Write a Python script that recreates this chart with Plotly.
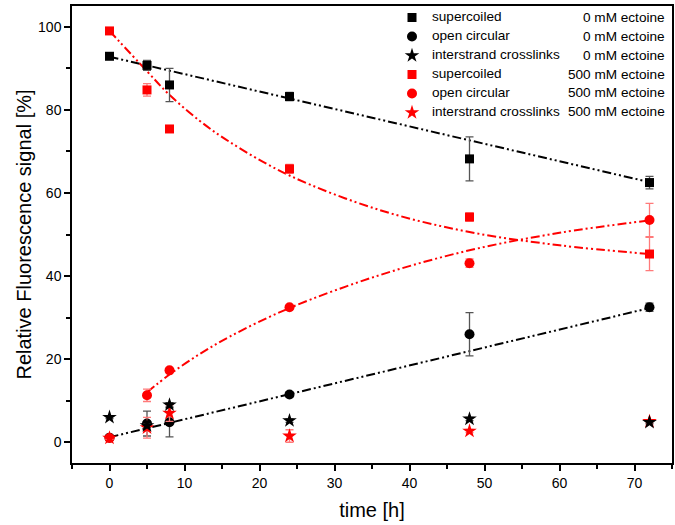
import plotly.graph_objects as go

# ---------------- data ----------------
time_h = [0, 5, 8, 24, 48, 72]

sc_0 = [92.9, 90.7, 86.0, 83.2, 68.2, 62.5]
sc_0_err = [0.6, 1.2, 4.0, 1.0, 5.3, 1.5]
oc_0 = [1.1, 4.5, 4.8, 11.5, 26.0, 32.5]
oc_0_err = [0.5, 3.0, 3.5, 0.6, 5.2, 1.0]
xl_0 = [6.0, 4.0, 9.0, 5.2, 5.6, 4.8]
xl_0_err = [0.3, 0.5, 0.5, 0.4, 0.4, 0.4]

sc_500 = [99.0, 84.8, 75.4, 65.8, 54.2, 45.3]
sc_500_err = [0.5, 1.5, 0.7, 1.1, 1.0, 4.0]
oc_500 = [1.0, 11.3, 17.3, 32.5, 43.1, 53.5]
oc_500_err = [0.3, 1.5, 0.5, 0.4, 1.0, 4.0]
xl_500 = [1.0, 3.5, 7.0, 1.5, 2.7, 5.0]
xl_500_err = [0.3, 2.5, 2.0, 1.5, 0.4, 0.4]

# fitted curves as drawn in the reference
fit_lin_t = [0, 72]
fit_sc_0 = [92.8, 62.6]
fit_oc_0 = [1.2, 32.3]
fit_sc_500_t = [0, 5, 8, 12, 16, 24, 36, 48, 60, 72]
fit_sc_500 = [99.0, 89.3, 83.6, 77.4, 72.3, 64.2, 55.9, 50.6, 47.4, 45.3]
fit_oc_500_t = [5, 8, 12, 16, 24, 36, 48, 60, 72]
fit_oc_500 = [12.0, 16.3, 21.2, 25.4, 32.3, 40.2, 46.2, 50.4, 53.4]

series_names = ["supercoiled", "open circular", "interstrand crosslinks"]
conditions = ["0 mM ectoine", "500 mM ectoine"]

x_ticks = [0, 10, 20, 30, 40, 50, 60, 70]
y_ticks = [0, 20, 40, 60, 80, 100]

dashdotdot = "9px,3px,2px,3px,2px,3px"
legend_font_px = 13.6

fig = go.Figure()
fits = [
    (fit_lin_t, fit_sc_0, "black", "linear"),
    (fit_lin_t, fit_oc_0, "black", "linear"),
    (fit_sc_500_t, fit_sc_500, "red", "spline"),
    (fit_oc_500_t, fit_oc_500, "red", "spline"),
]
for xs, ys, col, shape in fits:
    fig.add_trace(go.Scatter(x=xs, y=ys, mode="lines", showlegend=False,
                             hoverinfo="skip",
                             line=dict(color=col, width=2, dash=dashdotdot,
                                       shape=shape, smoothing=1.0)))

err_black = "#555555"
err_red = "#ff7a7a"


def leg(name):
    return ('<span style="font-size:%spx">' % legend_font_px) + name + "</span>"


points = [
    # (values, errors, colour, errcolour, symbol, size, legend name, rank)
    (sc_0, sc_0_err, "black", err_black, "square", 9, series_names[0], 1),
    (oc_0, oc_0_err, "black", err_black, "circle", 10, series_names[1], 2),
    (sc_500, sc_500_err, "red", err_red, "square", 9, series_names[0], 4),
    (oc_500, oc_500_err, "red", err_red, "circle", 10, series_names[1], 5),
    (xl_500, xl_500_err, "red", err_red, "star", 11, series_names[2], 6),
    (xl_0, xl_0_err, "black", err_black, "star", 11, series_names[2], 3),
]

for vals, errs, col, ecol, sym, size, name, rank in points:
    fig.add_trace(go.Scatter(
        x=time_h, y=vals, mode="markers", name=leg(name), legendrank=rank,
        marker=dict(symbol=sym, size=size, color=col, line=dict(width=0)),
        error_y=dict(type="data", array=errs, visible=True, color=ecol,
                     thickness=1.3, width=4),
    ))

axis_common = dict(
    showgrid=False, zeroline=False, showline=True, linecolor="black",
    linewidth=1.5, mirror=True, ticks="outside", ticklen=6, tickwidth=1.5,
    tickcolor="black", tickfont=dict(size=14, color="black"),
    automargin=False,
)

fig.update_xaxes(range=[-5, 75], tickvals=x_ticks,
                 minor=dict(dtick=5, tick0=0, ticks="outside", ticklen=4,
                            tickwidth=1.5, tickcolor="black"),
                 title=dict(text="time [h]", font=dict(size=20, color="black"),
                            standoff=13),
                 **axis_common)
fig.update_yaxes(range=[-5, 105], tickvals=y_ticks,
                 minor=dict(dtick=10, tick0=0, ticks="outside", ticklen=4,
                            tickwidth=1.5, tickcolor="black"),
                 title=dict(text="Relative Fluorescence signal [%]",
                            font=dict(size=20, color="black"), standoff=1),
                 **axis_common)

# right-hand column of the legend (condition labels)
plot_h = 460
plot_w = 600
row_gap = 19
legend_shift = 3
first_row = 14.5 - legend_shift
row_conditions = [conditions[0]] * 3 + [conditions[1]] * 3
for i, cond in enumerate(row_conditions):
    ypx = first_row + row_gap * i
    fig.add_annotation(x=1 - 5 / plot_w, xref="paper", xanchor="right",
                       y=1 - ypx / plot_h, yref="paper", yanchor="middle",
                       text=cond, showarrow=False,
                       font=dict(size=legend_font_px, color="black"))

fig.update_layout(
    width=675, height=525,
    margin=dict(l=72, r=3, t=3, b=62),
    plot_bgcolor="white", paper_bgcolor="white",
    font=dict(family="Liberation Sans, Arial, sans-serif", color="black"),
    legend=dict(x=(392 - 72) / plot_w, xanchor="left",
                y=1 + legend_shift / plot_h, yanchor="top",
                bgcolor="rgba(0,0,0,0)", font=dict(size=10, color="black"),
                traceorder="normal"),
)

fig.write_html("out.html",
               config={"displayModeBar": False},
               post_script="document.body.style.margin='0';"
                           "document.body.style.overflow='hidden';")
